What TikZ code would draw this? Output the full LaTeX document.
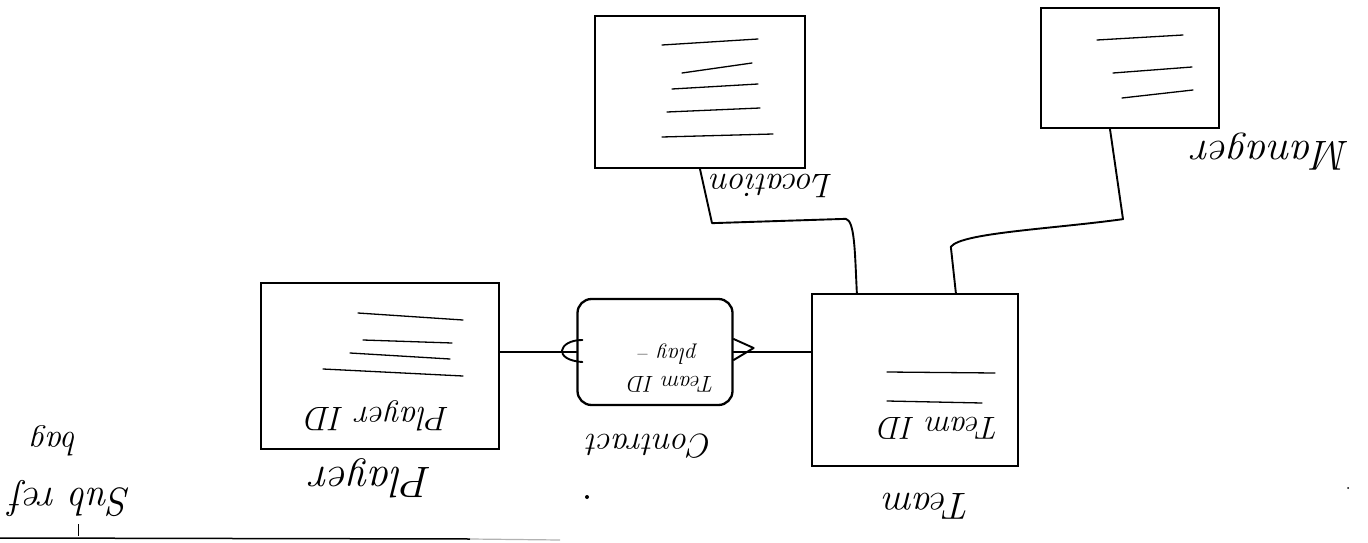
\documentclass[tikz,border=0pt]{standalone}
\usetikzlibrary{calc}
\begin{document}
\begin{tikzpicture}[x=1pt,y=-1pt,
  entbox/.style={draw, line width=2.3pt, rectangle, inner sep=0pt},
  relbox/.style={draw, line width=2.3pt, rectangle, rounded corners=14pt, inner sep=0pt},
  conn/.style={line width=1.9pt, line join=round, line cap=round},
  attr/.style={line width=1.3pt, line cap=round},
  hw/.style={rotate=180, inner sep=0pt, font=\fontsize{#1}{#1}\selectfont\itshape}]
\useasboundingbox (0,0) rectangle (1368,543);

% entities
\node[entbox, minimum width=210pt, minimum height=152pt] (loc) at (700,92) {};
\node[entbox, minimum width=178pt, minimum height=120pt] (mgr) at (1130,68) {};
\node[entbox, minimum width=238pt, minimum height=166pt] (player) at (380,366) {};
\node[entbox, minimum width=206pt, minimum height=172pt] (team) at (915,380) {};
\node[relbox, minimum width=155pt, minimum height=106pt] (contract) at (655,352) {};

% attribute lines inside the boxes
\draw[attr] (662,45) -- (758,39);
\draw[attr] (682,73) -- (752,63);
\draw[attr] (672,89) -- (758,84);
\draw[attr] (667,112) -- (760,108);
\draw[attr] (662,137) -- (773,134);

\draw[attr] (1097,40) -- (1183,35);
\draw[attr] (1113,73) -- (1192,67);
\draw[attr] (1122,98) -- (1193,90);

\draw[attr] (358,313) -- (463,320);
\draw[attr] (363,340) -- (452,343);
\draw[attr] (350,353) -- (450,359);
\draw[attr] (323,369) -- (463,376);

\draw[attr] (887,372) -- (995,373);
\draw[attr] (887,401) -- (982,403);

% labels (written upside down)
\node[hw=34] (locl) at (772,186) {Location};
\node[hw=42] (mgrl) at (1272,152) {Manager};
\node[hw=34] (pid) at (378,416) {Player ID};
\node[hw=44] (playerl) at (372,478) {Player};
\node[hw=32] (tid) at (940,428) {Team ID};
\node[hw=38] (teaml) at (928,506) {Team};
\node[hw=34] (contractl) at (650,446) {Contract};
\node[hw=23] (ctid) at (672,384) {Team ID};
\node[hw=23] (cplay) at (668,354) {play --};
\node[hw=34] (s1) at (55,441) {bag};
\node[hw=40] (s2) at (72,498) {Sub ref};

% connectors
\draw[conn] (loc.south) -- ($(loc.south)+(12,54)$) -- ($(team.north west)+(35,-74)$)
  .. controls ($(team.north west)+(44,-72)$) and ($(team.north west)+(44,-40)$) .. ([xshift=46pt]team.north west);
\draw[conn] ([xshift=-20pt]mgr.south) -- ($(mgr.south)+(-7,90)$)
  .. controls ($(mgr.south)+(-80,100)$) and ($(team.north west)+(150,-60)$) .. ($(team.north west)+(140,-46)$)
  -- ([xshift=145pt]team.north west);

\draw[conn] (contract.west -| player.east) -- (contract.west);
\draw[conn] ($(contract.west)+(6,-12)$) .. controls ($(contract.west)+(-18,-12)$) and ($(contract.west)+(-24,8)$) .. ($(contract.west)+(6,10)$);
\draw[conn] (contract.east) -- (contract.east -| team.west);
\draw[conn] ($(contract.east)+(0,-13)$) -- ($(contract.east)+(20,-4)$) -- ($(contract.east)+(0,8)$);

% baseline stroke and specks
\draw[line width=1.5pt] (0,538) -- (470,539);
\draw[line width=1.2pt, gray!60] (470,539) -- (560,540);
\draw[line width=1pt] (78,524) -- (78,536);
\fill (587,497) circle (2pt);
\fill (1348,488) circle (1pt);
\end{tikzpicture}
\end{document}
